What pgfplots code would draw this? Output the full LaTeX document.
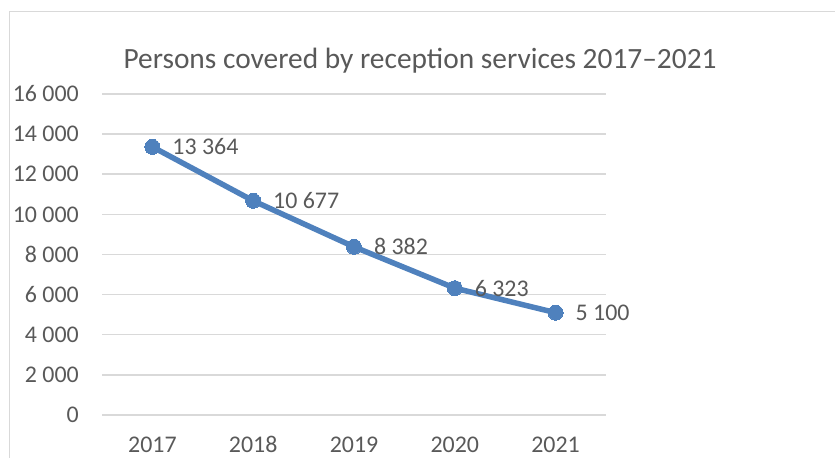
\documentclass[border=0pt]{standalone}
\usepackage{pgfplots}
\pgfplotsset{compat=1.18}
\usepackage{fontspec}
\setmainfont{Carlito}
\definecolor{txt}{HTML}{595959}
\definecolor{gridc}{HTML}{D9D9D9}
\definecolor{ser}{HTML}{4F81BD}
\begin{document}
\begin{tikzpicture}[x=1bp,y=1bp]
\useasboundingbox (0,0) rectangle (835,458);
\draw[gridc, line width=1.3bp] (9.5,-5) -- (9.5,446.5) -- (845,446.5);
\node[anchor=base, text=txt, font=\fontsize{29.5}{35}\selectfont] at (420,389.7) {Persons covered by reception services 2017–2021};
\begin{axis}[
  at={(102bp,43bp)}, anchor=south west,
  scale only axis, width=504bp, height=321bp,
  xmin=-0.5, xmax=4.5, ymin=0, ymax=16000,
  xtick={0,1,2,3,4}, xticklabels={2017,2018,2019,2020,2021},
  ytick={0,2000,4000,6000,8000,10000,12000,14000,16000},
  axis line style={draw=none},
  ymajorgrids, grid style={gridc, line width=1.5bp},
  major tick length=0pt,
  tick label style={font=\fontsize{24}{28}\selectfont, text=txt},
  /pgf/number format/assume math mode=true,
  /pgf/number format/1000 sep={\ },
  scaled y ticks=false,
  yticklabel style={anchor=east, inner sep=0pt, xshift=-23bp},
  xticklabel style={anchor=base, inner sep=0pt, yshift=-38bp},
  clip=false,
  nodes near coords,
  every node near coord/.append style={anchor=west, inner sep=0pt, xshift=20bp, font=\fontsize{24}{28}\selectfont, text=txt},
]
\addplot[ser, line width=5.5bp, mark=*, mark size=7.5bp, mark options={fill=ser, draw=ser, line width=0pt}] coordinates {
  (0,13364) (1,10677) (2,8382) (3,6323) (4,5100)
};
\end{axis}
\end{tikzpicture}
\end{document}
